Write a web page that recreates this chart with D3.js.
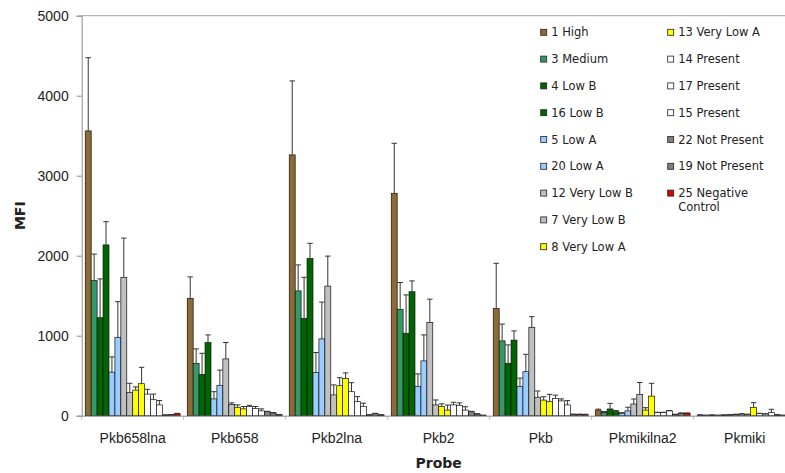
<!DOCTYPE html>
<html>
<head>
<meta charset="utf-8">
<script src="https://cdn.jsdelivr.net/npm/d3@7"></script>
<style>
  body { margin: 0; background: #fff; }
  svg { display: block; font-family: "DejaVu Sans", Verdana, sans-serif; }
</style>
</head>
<body>
<div id="chart"></div>
<script>
// probes on the x axis
const probes = ["Pkb658lna", "Pkb658", "Pkb2lna", "Pkb2", "Pkb", "Pkmikilna2", "Pkmiki"];

// samples (one bar per probe), in drawing order
const samples = ["1 High", "3 Medium", "4 Low B", "16 Low B", "5 Low A", "20 Low A",
  "12 Very Low B", "7 Very Low B", "8 Very Low A", "13 Very Low A", "14 Present",
  "17 Present", "15 Present", "22 Not Present", "19 Not Present", "25 Negative Control"];

const sampleColors = ["#8c6b34", "#339966", "#006600", "#006600", "#99ccff", "#99ccff",
  "#c0c0c0", "#c0c0c0", "#ffff00", "#ffff00", "#ffffff", "#ffffff", "#ffffff",
  "#808080", "#808080", "#e00000"];

// mean MFI, one array per sample (same order as probes)
const high1        = [3560, 1465, 3260, 2780, 1340, 70, 8];
const medium3      = [1690, 655, 1560, 1330, 935, 42, 5];
const lowB4        = [1225, 515, 1215, 1030, 655, 84, 8];
const lowB16       = [2135, 915, 1965, 1550, 945, 50, 5];
const lowA5        = [545, 210, 540, 365, 365, 30, 8];
const lowA20       = [980, 380, 960, 685, 550, 60, 10];
const veryLowB12   = [1730, 710, 1620, 1165, 1105, 146, 15];
const veryLowB7    = [290, 140, 260, 135, 230, 265, 20];
const veryLowA8    = [320, 105, 375, 115, 195, 70, 15];
const veryLowA13   = [400, 85, 465, 70, 175, 245, 105];
const present14    = [270, 115, 300, 135, 215, 38, 25];
const present17    = [200, 90, 175, 130, 185, 38, 20];
const present15    = [135, 60, 115, 70, 135, 60, 38];
const notPresent22 = [8, 50, 10, 50, 17, 15, 10];
const notPresent19 = [12, 35, 25, 20, 17, 30, 5];
const negative25   = [25, 12, 10, 5, 15, 30, 5];

// error (+) per sample
const high1Err        = [915, 270, 925, 625, 565, 12, 3];
const medium3Err      = [330, 180, 325, 335, 210, 10, 2];
const lowB4Err        = [485, 265, 515, 480, 230, 70, 3];
const lowB16Err       = [290, 95, 190, 135, 115, 15, 2];
const lowA5Err        = [190, 90, 250, 158, 104, 8, 3];
const lowA20Err       = [445, 190, 460, 325, 217, 46, 3];
const veryLowB12Err   = [490, 205, 375, 292, 133, 63, 4];
const veryLowB7Err    = [115, 20, 125, 62, 79, 150, 5];
const veryLowA8Err    = [40, 30, 100, 33, 42, 30, 4];
const veryLowA13Err   = [205, 30, 70, 63, 92, 160, 58];
const present14Err    = [60, 15, 113, 33, 42, 5, 5];
const present17Err    = [70, 25, 63, 30, 25, 5, 5];
const present15Err    = [55, 25, 42, 42, 54, 5, 42];
const notPresent22Err = [3, 5, 3, 5, 3, 3, 3];
const notPresent19Err = [3, 5, 5, 5, 3, 5, 2];
const negative25Err   = [5, 3, 3, 2, 3, 5, 2];

const yTicks = [0, 1000, 2000, 3000, 4000, 5000];

const means = [high1, medium3, lowB4, lowB16, lowA5, lowA20, veryLowB12, veryLowB7,
  veryLowA8, veryLowA13, present14, present17, present15, notPresent22, notPresent19, negative25];
const errs = [high1Err, medium3Err, lowB4Err, lowB16Err, lowA5Err, lowA20Err, veryLowB12Err,
  veryLowB7Err, veryLowA8Err, veryLowA13Err, present14Err, present17Err, present15Err,
  notPresent22Err, notPresent19Err, negative25Err];

const width = 785, height = 473;
const plotLeft = 81.7, plotRight = 795.7, plotTop = 15.7, plotBottom = 415.7;

const svg = d3.select("#chart").append("svg")
  .attr("width", width)
  .attr("height", height);

const x0 = d3.scaleBand().domain(probes).range([plotLeft, plotRight]);
const x1 = d3.scaleBand().domain(samples).range([0, x0.bandwidth()]).paddingOuter(0.6);
const y = d3.scaleLinear().domain([0, 5000]).range([plotBottom, plotTop]);

// flatten into bar records
const bars = [];
probes.forEach((p, pi) => {
  samples.forEach((s, si) => {
    bars.push({ probe: p, sample: s, value: means[si][pi], err: errs[si][pi], color: sampleColors[si] });
  });
});

// frame: top border line
svg.append("line")
  .attr("x1", plotLeft).attr("x2", plotRight)
  .attr("y1", plotTop).attr("y2", plotTop)
  .attr("stroke", "#a6a6a6").attr("stroke-width", 1);

// y axis
const yAxis = svg.append("g")
  .attr("transform", `translate(${plotLeft},0)`)
  .call(d3.axisLeft(y).tickValues(yTicks).tickSize(5).tickPadding(8).tickFormat(d3.format("d")));
yAxis.select(".domain").attr("stroke", "#8c8c8c");
yAxis.selectAll(".tick line").attr("stroke", "#8c8c8c");
yAxis.selectAll("text").attr("font-size", 14).attr("fill", "#222");

// bars
const g = svg.append("g");
g.selectAll("rect")
  .data(bars)
  .enter().append("rect")
  .attr("x", d => x0(d.probe) + x1(d.sample))
  .attr("y", d => y(d.value))
  .attr("width", x1.bandwidth())
  .attr("height", d => plotBottom - y(d.value))
  .attr("fill", d => d.color)
  .attr("stroke", "#111")
  .attr("stroke-width", 0.7);

// error bars (plus only)
const eb = svg.append("g").attr("stroke", "#333").attr("stroke-width", 1);
eb.selectAll("line.v")
  .data(bars)
  .enter().append("line")
  .attr("class", "v")
  .attr("x1", d => x0(d.probe) + x1(d.sample) + x1.bandwidth() / 2)
  .attr("x2", d => x0(d.probe) + x1(d.sample) + x1.bandwidth() / 2)
  .attr("y1", d => y(d.value))
  .attr("y2", d => y(d.value + d.err));
eb.selectAll("line.c")
  .data(bars)
  .enter().append("line")
  .attr("class", "c")
  .attr("x1", d => x0(d.probe) + x1(d.sample) + x1.bandwidth() / 2 - 2.7)
  .attr("x2", d => x0(d.probe) + x1(d.sample) + x1.bandwidth() / 2 + 2.7)
  .attr("y1", d => y(d.value + d.err))
  .attr("y2", d => y(d.value + d.err));

// x axis
const xAxis = svg.append("g")
  .attr("transform", `translate(0,${plotBottom})`)
  .call(d3.axisBottom(x0).tickSize(0).tickPadding(17));
xAxis.select(".domain").attr("stroke", "#8c8c8c");
xAxis.selectAll("text").attr("font-size", 14).attr("fill", "#222");

// category boundary ticks
svg.append("g")
  .selectAll("line")
  .data(probes.map(p => x0(p)).concat([plotRight]))
  .enter().append("line")
  .attr("x1", d => d).attr("x2", d => d)
  .attr("y1", plotBottom).attr("y2", plotBottom + 4)
  .attr("stroke", "#b0b0b0");

// axis titles
svg.append("text")
  .attr("x", (plotLeft + plotRight) / 2)
  .attr("y", 468)
  .attr("text-anchor", "middle")
  .attr("font-size", 14)
  .attr("font-weight", "bold")
  .attr("fill", "#222")
  .text("Probe");

svg.append("text")
  .attr("transform", `translate(25,${(plotTop + plotBottom) / 2}) rotate(-90)`)
  .attr("text-anchor", "middle")
  .attr("font-size", 14)
  .attr("font-weight", "bold")
  .attr("fill", "#222")
  .text("MFI");

// legend, two columns
const legendCols = [540.7, 667.7];
const rowsPerCol = 9;
const legend = svg.append("g");
const items = legend.selectAll("g")
  .data(samples)
  .enter().append("g")
  .attr("transform", (d, i) => {
    const col = Math.floor(i / rowsPerCol), row = i % rowsPerCol;
    return `translate(${legendCols[col]},${32.3 + row * 26.8})`;
  });
items.append("rect")
  .attr("x", 0).attr("y", -3)
  .attr("width", 6).attr("height", 6)
  .attr("fill", (d, i) => sampleColors[i])
  .attr("stroke", "#222")
  .attr("stroke-width", 0.8);
items.append("text")
  .attr("x", 10.5)
  .attr("y", 0)
  .attr("dy", "0.36em")
  .attr("font-size", 11.5)
  .attr("fill", "#222")
  .each(function (d) {
    const t = d3.select(this);
    if (d === "25 Negative Control") {
      t.append("tspan").attr("x", 10.5).text("25 Negative");
      t.append("tspan").attr("x", 10.5).attr("dy", 14).text("Control");
    } else {
      t.text(d);
    }
  });
</script>
</body>
</html>
